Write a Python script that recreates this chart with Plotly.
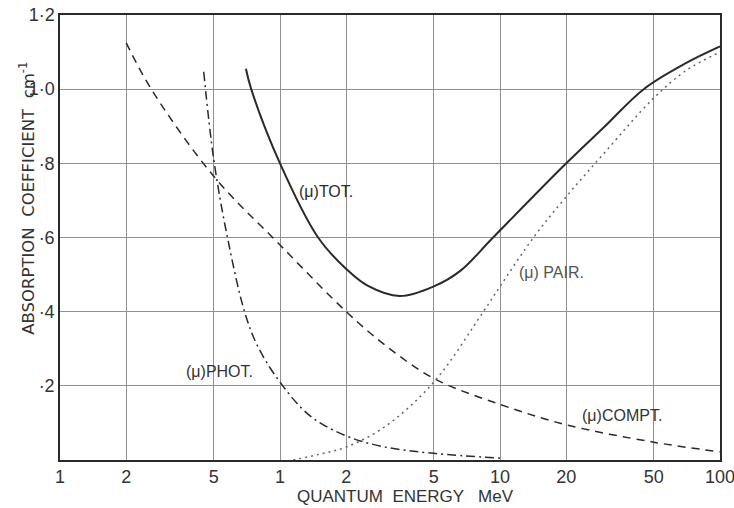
import math
import plotly.graph_objects as go

# Quantum energy (MeV) and absorption coefficients (cm^-1)
tot_e = [0.70, 0.74, 1.0, 1.49, 2.0, 2.5, 3.5, 5.0, 6.6, 9.3, 20, 30, 45, 70, 100]
tot_mu = [1.055, 1.0, 0.80, 0.60, 0.515, 0.47, 0.442, 0.468, 0.51, 0.60, 0.80, 0.90, 1.0, 1.07, 1.115]

compt_e = [0.2, 0.26, 0.5, 1.0, 2.0, 3.0, 5.0, 10, 20, 50, 100]
compt_mu = [1.125, 1.0, 0.765, 0.58, 0.40, 0.31, 0.22, 0.15, 0.095, 0.048, 0.022]

phot_e = [0.45, 0.5, 0.577, 0.69, 0.79, 1.0, 1.37, 2.0, 3.0, 5.0, 10]
phot_mu = [1.047, 0.81, 0.60, 0.40, 0.308, 0.21, 0.119, 0.065, 0.035, 0.018, 0.005]

pair_e = [1.15, 1.5, 2.0, 3.0, 5.0, 8.4, 10, 14.2, 20, 30, 50, 70, 100]
pair_mu = [0.0, 0.015, 0.035, 0.09, 0.21, 0.40, 0.468, 0.60, 0.71, 0.83, 0.976, 1.05, 1.10]

x_tickvals = [0.1, 0.2, 0.5, 1, 2, 5, 10, 20, 50, 100]
x_ticktext = ["1", "2", "5", "1", "2", "5", "10", "20", "50", "100"]
y_tickvals = [0.2, 0.4, 0.6, 0.8, 1.0, 1.2]
y_ticktext = ["·2", "·4", "·6", "·8", "1·0", "1·2"]

labels = ["(μ)TOT.", "(μ) PAIR.", "(μ)PHOT.", "(μ)COMPT."]
label_e = [1.19, 12.0, 0.365, 23.2]
label_mu = [0.723, 0.505, 0.239, 0.12]
label_colors = ["#2a2a2a", "#555555", "#333333", "#333333"]

ink = "#2a2a2a"
txt = "#333333"
font = "Liberation Sans, Arial, sans-serif"

fig = go.Figure()
fig.add_trace(go.Scatter(x=compt_e, y=compt_mu, mode="lines",
                         line=dict(color=ink, width=1.5, dash="8px,6px", shape="spline", smoothing=1.0)))
fig.add_trace(go.Scatter(x=phot_e, y=phot_mu, mode="lines",
                         line=dict(color=ink, width=1.5, dash="9px,4px,2px,4px", shape="spline", smoothing=1.0)))
fig.add_trace(go.Scatter(x=pair_e, y=pair_mu, mode="lines",
                         line=dict(color="#666666", width=1.5, dash="2px,4px", shape="spline", smoothing=1.0)))
fig.add_trace(go.Scatter(x=tot_e, y=tot_mu, mode="lines",
                         line=dict(color=ink, width=2.0, shape="spline", smoothing=1.0)))

for t, xe, ym, c in zip(labels, label_e, label_mu, label_colors):
    fig.add_annotation(x=math.log10(xe), y=ym, xref="x", yref="y", text=t, showarrow=False,
                       xanchor="left", yanchor="middle",
                       font=dict(family=font, size=16, color=c))

fig.add_annotation(x=-0.05, y=0.587, xref="paper", yref="paper",
                   text="ABSORPTION  COEFFICIENT  cm<sup>-1</sup>", showarrow=False, textangle=-90,
                   xanchor="center", yanchor="middle",
                   font=dict(family="DejaVu Sans, sans-serif", size=16.5, color=txt))
fig.add_annotation(x=0.523, y=-0.083, xref="paper", yref="paper",
                   text="QUANTUM  ENERGY   MeV", showarrow=False,
                   xanchor="center", yanchor="middle",
                   font=dict(family=font, size=17, color=txt))

fig.update_xaxes(type="log", range=[-1, 2], tickvals=x_tickvals, ticktext=x_ticktext,
                 showgrid=True, gridcolor="#909090", gridwidth=1,
                 showline=True, linecolor=ink, linewidth=1.5, mirror=True,
                 ticks="", zeroline=False, automargin=False, ticklabeloverflow="allow",
                 tickfont=dict(family=font, size=18, color=txt))
fig.update_yaxes(range=[0, 1.2], tickvals=y_tickvals, ticktext=y_ticktext,
                 showgrid=True, gridcolor="#909090", gridwidth=1,
                 showline=True, linecolor=ink, linewidth=1.5, mirror=True,
                 ticks="", zeroline=False, automargin=False, ticklabeloverflow="allow",
                 tickfont=dict(family=font, size=18, color=txt))

fig.update_layout(width=734, height=508, showlegend=False,
                  margin=dict(l=60, r=14, t=15, b=48),
                  paper_bgcolor="white", plot_bgcolor="white")

# remove the page's default body margin so the 734x508 figure fills the window exactly
fig.write_html("out.html",
               config={"displayModeBar": False},
               post_script="document.body.style.margin='0';"
                           "document.documentElement.style.overflow='hidden';")
